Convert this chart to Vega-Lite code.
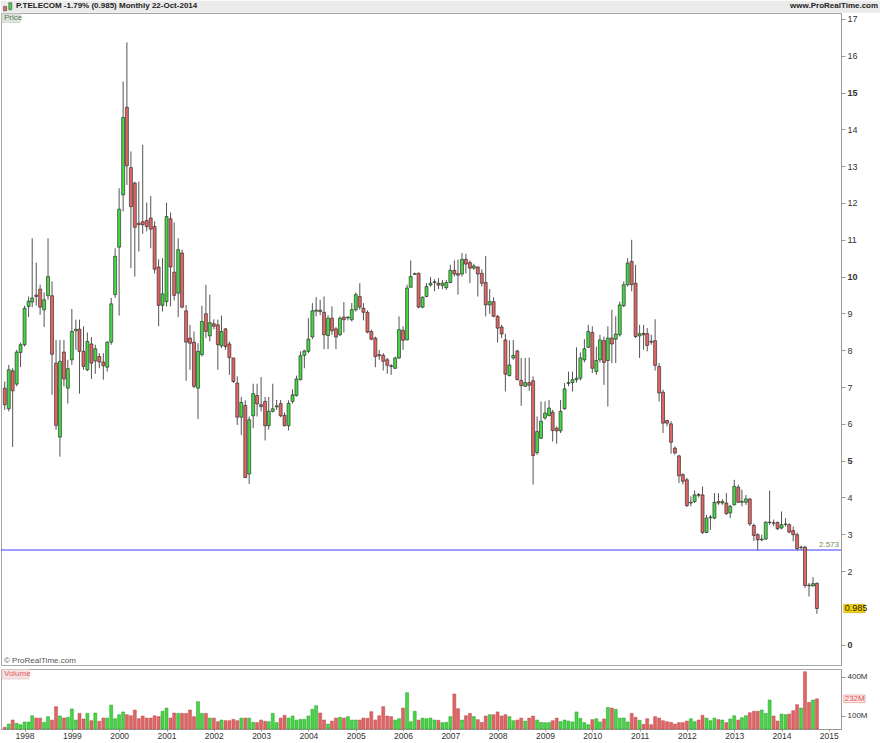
{
"$schema": "https://vega.github.io/schema/vega-lite/v6.json",
"background": "white",
"padding": 0,
"spacing": 2,
"config": {"view": {"stroke": "#a8a8a8"}, "font": "Liberation Sans"},
"datasets": {"px": [
{"d":"1997-08-01","o":6.97,"h":7.15,"l":6.38,"c":6.52,"v":13},
{"d":"1997-09-01","o":6.41,"h":7.60,"l":6.34,"c":7.47,"v":38},
{"d":"1997-10-01","o":7.44,"h":7.51,"l":5.37,"c":6.90,"v":69},
{"d":"1997-11-01","o":7.08,"h":8.01,"l":7.02,"c":7.95,"v":44},
{"d":"1997-12-01","o":7.94,"h":8.21,"l":7.54,"c":8.15,"v":33},
{"d":"1998-01-01","o":8.15,"h":9.21,"l":8.10,"c":9.14,"v":54},
{"d":"1998-02-01","o":9.19,"h":9.46,"l":8.90,"c":9.33,"v":54},
{"d":"1998-03-01","o":9.31,"h":11.04,"l":9.17,"c":9.42,"v":102},
{"d":"1998-04-01","o":9.50,"h":10.38,"l":9.21,"c":9.46,"v":84},
{"d":"1998-05-01","o":9.66,"h":9.78,"l":8.96,"c":9.17,"v":84},
{"d":"1998-06-01","o":9.10,"h":9.57,"l":8.63,"c":9.37,"v":51},
{"d":"1998-07-01","o":9.48,"h":11.04,"l":9.37,"c":10.00,"v":95},
{"d":"1998-08-01","o":9.48,"h":9.87,"l":6.79,"c":7.89,"v":69},
{"d":"1998-09-01","o":7.65,"h":8.28,"l":5.84,"c":5.96,"v":172},
{"d":"1998-10-01","o":5.64,"h":8.28,"l":5.11,"c":7.70,"v":100},
{"d":"1998-11-01","o":7.95,"h":8.28,"l":7.02,"c":7.22,"v":84},
{"d":"1998-12-01","o":6.97,"h":7.74,"l":6.55,"c":7.50,"v":90},
{"d":"1999-01-01","o":7.74,"h":9.12,"l":7.60,"c":8.51,"v":154},
{"d":"1999-02-01","o":8.53,"h":8.83,"l":8.01,"c":8.57,"v":69},
{"d":"1999-03-01","o":8.57,"h":8.83,"l":6.82,"c":7.97,"v":120},
{"d":"1999-04-01","o":7.97,"h":8.65,"l":7.47,"c":7.56,"v":77},
{"d":"1999-05-01","o":7.47,"h":8.48,"l":7.43,"c":8.24,"v":120},
{"d":"1999-06-01","o":8.17,"h":8.36,"l":7.22,"c":7.65,"v":64},
{"d":"1999-07-01","o":7.71,"h":8.15,"l":7.36,"c":8.04,"v":123},
{"d":"1999-08-01","o":7.83,"h":7.92,"l":7.51,"c":7.68,"v":59},
{"d":"1999-09-01","o":7.68,"h":7.92,"l":7.20,"c":7.58,"v":84},
{"d":"1999-10-01","o":7.54,"h":8.24,"l":7.42,"c":8.22,"v":84},
{"d":"1999-11-01","o":8.22,"h":9.42,"l":8.15,"c":9.26,"v":184},
{"d":"1999-12-01","o":9.51,"h":10.77,"l":9.42,"c":10.55,"v":79},
{"d":"2000-01-01","o":10.80,"h":12.40,"l":8.94,"c":11.83,"v":110},
{"d":"2000-02-01","o":12.22,"h":15.30,"l":11.77,"c":14.32,"v":131},
{"d":"2000-03-01","o":14.60,"h":16.36,"l":12.49,"c":13.01,"v":110},
{"d":"2000-04-01","o":12.96,"h":13.40,"l":10.23,"c":11.90,"v":102},
{"d":"2000-05-01","o":12.54,"h":12.58,"l":10.00,"c":11.34,"v":146},
{"d":"2000-06-01","o":11.45,"h":12.58,"l":10.68,"c":11.41,"v":79},
{"d":"2000-07-01","o":11.49,"h":13.58,"l":11.16,"c":11.41,"v":100},
{"d":"2000-08-01","o":11.52,"h":12.01,"l":11.23,"c":11.36,"v":84},
{"d":"2000-09-01","o":11.59,"h":12.19,"l":10.77,"c":11.29,"v":84},
{"d":"2000-10-01","o":11.36,"h":11.50,"l":10.09,"c":10.20,"v":102},
{"d":"2000-11-01","o":10.26,"h":10.47,"l":8.65,"c":9.22,"v":95},
{"d":"2000-12-01","o":9.22,"h":10.50,"l":9.05,"c":9.53,"v":136},
{"d":"2001-01-01","o":9.32,"h":12.01,"l":9.19,"c":11.63,"v":161},
{"d":"2001-02-01","o":11.57,"h":11.74,"l":9.19,"c":10.26,"v":84},
{"d":"2001-03-01","o":10.12,"h":11.47,"l":9.35,"c":9.49,"v":123},
{"d":"2001-04-01","o":9.55,"h":11.04,"l":8.90,"c":10.73,"v":120},
{"d":"2001-05-01","o":10.64,"h":10.73,"l":9.14,"c":9.17,"v":120},
{"d":"2001-06-01","o":9.07,"h":9.23,"l":7.17,"c":8.22,"v":120},
{"d":"2001-07-01","o":8.33,"h":8.69,"l":7.47,"c":8.19,"v":146},
{"d":"2001-08-01","o":8.22,"h":8.51,"l":6.97,"c":7.02,"v":95},
{"d":"2001-09-01","o":6.97,"h":8.19,"l":6.13,"c":7.97,"v":210},
{"d":"2001-10-01","o":7.88,"h":9.21,"l":7.83,"c":8.78,"v":120},
{"d":"2001-11-01","o":8.99,"h":9.78,"l":8.33,"c":8.51,"v":120},
{"d":"2001-12-01","o":8.39,"h":9.51,"l":8.24,"c":8.75,"v":84},
{"d":"2002-01-01","o":8.72,"h":8.84,"l":8.57,"c":8.65,"v":84},
{"d":"2002-02-01","o":8.69,"h":8.83,"l":7.47,"c":8.15,"v":56},
{"d":"2002-03-01","o":8.12,"h":8.94,"l":8.06,"c":8.51,"v":69},
{"d":"2002-04-01","o":8.58,"h":8.60,"l":8.01,"c":8.10,"v":64},
{"d":"2002-05-01","o":8.17,"h":8.24,"l":7.33,"c":7.80,"v":64},
{"d":"2002-06-01","o":7.79,"h":7.79,"l":7.11,"c":7.15,"v":74},
{"d":"2002-07-01","o":7.11,"h":7.29,"l":5.97,"c":6.18,"v":64},
{"d":"2002-08-01","o":6.18,"h":6.73,"l":5.70,"c":6.58,"v":84},
{"d":"2002-09-01","o":6.50,"h":6.64,"l":4.53,"c":4.54,"v":84},
{"d":"2002-10-01","o":4.64,"h":6.20,"l":4.37,"c":6.11,"v":84},
{"d":"2002-11-01","o":6.22,"h":7.09,"l":5.88,"c":6.82,"v":51},
{"d":"2002-12-01","o":6.77,"h":7.09,"l":6.20,"c":6.54,"v":49},
{"d":"2003-01-01","o":6.52,"h":7.27,"l":6.34,"c":6.47,"v":69},
{"d":"2003-02-01","o":6.61,"h":6.73,"l":5.55,"c":5.95,"v":59},
{"d":"2003-03-01","o":5.95,"h":6.73,"l":5.84,"c":6.34,"v":56},
{"d":"2003-04-01","o":6.34,"h":7.09,"l":6.31,"c":6.41,"v":120},
{"d":"2003-05-01","o":6.46,"h":6.65,"l":6.38,"c":6.49,"v":49},
{"d":"2003-06-01","o":6.55,"h":6.65,"l":6.18,"c":6.22,"v":84},
{"d":"2003-07-01","o":6.23,"h":6.31,"l":5.93,"c":5.95,"v":105},
{"d":"2003-08-01","o":5.95,"h":6.64,"l":5.82,"c":6.56,"v":84},
{"d":"2003-09-01","o":6.61,"h":6.94,"l":6.55,"c":6.79,"v":100},
{"d":"2003-10-01","o":6.77,"h":7.31,"l":6.74,"c":7.22,"v":69},
{"d":"2003-11-01","o":7.20,"h":7.97,"l":7.18,"c":7.85,"v":74},
{"d":"2003-12-01","o":7.86,"h":8.01,"l":7.51,"c":7.98,"v":74},
{"d":"2004-01-01","o":7.97,"h":8.87,"l":7.92,"c":8.30,"v":100},
{"d":"2004-02-01","o":8.36,"h":9.28,"l":8.30,"c":9.07,"v":151},
{"d":"2004-03-01","o":9.06,"h":9.44,"l":8.92,"c":9.09,"v":179},
{"d":"2004-04-01","o":9.09,"h":9.37,"l":8.95,"c":9.05,"v":123},
{"d":"2004-05-01","o":9.03,"h":9.46,"l":8.03,"c":8.42,"v":69},
{"d":"2004-06-01","o":8.40,"h":8.95,"l":8.03,"c":8.87,"v":38},
{"d":"2004-07-01","o":8.87,"h":9.19,"l":8.42,"c":8.53,"v":61},
{"d":"2004-08-01","o":8.58,"h":8.63,"l":8.03,"c":8.36,"v":84},
{"d":"2004-09-01","o":8.42,"h":8.92,"l":8.39,"c":8.87,"v":90},
{"d":"2004-10-01","o":8.90,"h":9.31,"l":8.48,"c":8.83,"v":84},
{"d":"2004-11-01","o":8.88,"h":8.92,"l":8.81,"c":8.90,"v":95},
{"d":"2004-12-01","o":8.83,"h":9.28,"l":8.78,"c":9.10,"v":69},
{"d":"2005-01-01","o":9.10,"h":9.57,"l":9.05,"c":9.51,"v":69},
{"d":"2005-02-01","o":9.46,"h":9.82,"l":9.10,"c":9.17,"v":69},
{"d":"2005-03-01","o":9.14,"h":9.28,"l":8.81,"c":9.03,"v":84},
{"d":"2005-04-01","o":9.03,"h":9.08,"l":8.46,"c":8.49,"v":82},
{"d":"2005-05-01","o":8.51,"h":8.56,"l":8.27,"c":8.30,"v":133},
{"d":"2005-06-01","o":8.33,"h":8.37,"l":7.54,"c":7.83,"v":69},
{"d":"2005-07-01","o":7.88,"h":8.01,"l":7.74,"c":7.85,"v":102},
{"d":"2005-08-01","o":7.86,"h":7.92,"l":7.45,"c":7.70,"v":172},
{"d":"2005-09-01","o":7.74,"h":7.79,"l":7.36,"c":7.59,"v":100},
{"d":"2005-10-01","o":7.58,"h":7.62,"l":7.33,"c":7.56,"v":95},
{"d":"2005-11-01","o":7.51,"h":7.83,"l":7.49,"c":7.79,"v":69},
{"d":"2005-12-01","o":7.79,"h":8.92,"l":7.76,"c":8.56,"v":79},
{"d":"2006-01-01","o":8.54,"h":8.65,"l":8.01,"c":8.27,"v":161},
{"d":"2006-02-01","o":8.28,"h":9.78,"l":8.27,"c":9.69,"v":279},
{"d":"2006-03-01","o":9.71,"h":10.44,"l":9.71,"c":10.00,"v":56},
{"d":"2006-04-01","o":10.06,"h":10.11,"l":10.05,"c":10.08,"v":136},
{"d":"2006-05-01","o":10.09,"h":10.11,"l":9.14,"c":9.17,"v":69},
{"d":"2006-06-01","o":9.17,"h":9.46,"l":9.14,"c":9.44,"v":84},
{"d":"2006-07-01","o":9.46,"h":9.82,"l":9.44,"c":9.73,"v":79},
{"d":"2006-08-01","o":9.77,"h":9.99,"l":9.73,"c":9.82,"v":84},
{"d":"2006-09-01","o":9.84,"h":9.93,"l":9.60,"c":9.86,"v":69},
{"d":"2006-10-01","o":9.82,"h":9.96,"l":9.66,"c":9.77,"v":67},
{"d":"2006-11-01","o":9.76,"h":9.91,"l":9.66,"c":9.82,"v":49},
{"d":"2006-12-01","o":9.70,"h":9.91,"l":9.64,"c":9.84,"v":51},
{"d":"2007-01-01","o":9.84,"h":10.32,"l":9.82,"c":10.17,"v":95},
{"d":"2007-02-01","o":10.17,"h":10.44,"l":10.00,"c":10.07,"v":269},
{"d":"2007-03-01","o":10.08,"h":10.46,"l":9.51,"c":10.04,"v":156},
{"d":"2007-04-01","o":10.07,"h":10.64,"l":10.00,"c":10.47,"v":69},
{"d":"2007-05-01","o":10.47,"h":10.62,"l":10.09,"c":10.34,"v":102},
{"d":"2007-06-01","o":10.38,"h":10.44,"l":9.82,"c":10.23,"v":120},
{"d":"2007-07-01","o":10.23,"h":10.35,"l":10.18,"c":10.29,"v":95},
{"d":"2007-08-01","o":10.26,"h":10.28,"l":9.46,"c":10.07,"v":72},
{"d":"2007-09-01","o":10.09,"h":10.20,"l":9.73,"c":9.82,"v":51},
{"d":"2007-10-01","o":9.84,"h":10.56,"l":8.92,"c":9.23,"v":100},
{"d":"2007-11-01","o":9.23,"h":9.66,"l":8.99,"c":9.32,"v":110},
{"d":"2007-12-01","o":9.32,"h":9.44,"l":8.90,"c":8.92,"v":110},
{"d":"2008-01-01","o":8.92,"h":8.96,"l":8.21,"c":8.60,"v":131},
{"d":"2008-02-01","o":8.63,"h":8.69,"l":8.33,"c":8.44,"v":100},
{"d":"2008-03-01","o":8.28,"h":8.45,"l":6.88,"c":7.35,"v":110},
{"d":"2008-04-01","o":7.31,"h":8.27,"l":7.29,"c":7.60,"v":95},
{"d":"2008-05-01","o":7.79,"h":8.28,"l":7.74,"c":7.86,"v":64},
{"d":"2008-06-01","o":7.98,"h":8.01,"l":7.18,"c":7.20,"v":69},
{"d":"2008-07-01","o":7.18,"h":7.79,"l":6.49,"c":7.04,"v":84},
{"d":"2008-08-01","o":7.02,"h":7.79,"l":7.00,"c":7.12,"v":61},
{"d":"2008-09-01","o":7.12,"h":7.80,"l":6.90,"c":7.05,"v":84},
{"d":"2008-10-01","o":7.17,"h":7.29,"l":4.35,"c":5.14,"v":100},
{"d":"2008-11-01","o":5.22,"h":6.20,"l":5.16,"c":5.79,"v":69},
{"d":"2008-12-01","o":5.61,"h":6.61,"l":5.59,"c":6.07,"v":51},
{"d":"2009-01-01","o":6.16,"h":6.61,"l":6.11,"c":6.29,"v":49},
{"d":"2009-02-01","o":6.23,"h":6.65,"l":6.20,"c":6.43,"v":49},
{"d":"2009-03-01","o":6.32,"h":6.38,"l":5.52,"c":5.82,"v":64},
{"d":"2009-04-01","o":5.88,"h":5.93,"l":5.46,"c":5.81,"v":84},
{"d":"2009-05-01","o":5.81,"h":6.65,"l":5.75,"c":6.34,"v":56},
{"d":"2009-06-01","o":6.41,"h":7.11,"l":6.38,"c":6.95,"v":69},
{"d":"2009-07-01","o":7.10,"h":7.42,"l":7.02,"c":7.12,"v":61},
{"d":"2009-08-01","o":7.12,"h":7.42,"l":6.88,"c":7.20,"v":54},
{"d":"2009-09-01","o":7.20,"h":8.08,"l":7.12,"c":7.24,"v":131},
{"d":"2009-10-01","o":7.24,"h":7.94,"l":7.18,"c":7.79,"v":82},
{"d":"2009-11-01","o":7.74,"h":8.30,"l":7.67,"c":8.04,"v":49},
{"d":"2009-12-01","o":8.08,"h":8.69,"l":8.06,"c":8.51,"v":33},
{"d":"2010-01-01","o":8.48,"h":8.65,"l":7.38,"c":7.51,"v":72},
{"d":"2010-02-01","o":7.42,"h":8.10,"l":7.33,"c":7.72,"v":79},
{"d":"2010-03-01","o":7.74,"h":8.42,"l":7.67,"c":8.28,"v":54},
{"d":"2010-04-01","o":8.26,"h":8.37,"l":7.06,"c":7.67,"v":77},
{"d":"2010-05-01","o":7.72,"h":8.65,"l":6.47,"c":8.33,"v":166},
{"d":"2010-06-01","o":8.33,"h":9.10,"l":7.65,"c":8.17,"v":161},
{"d":"2010-07-01","o":8.30,"h":8.92,"l":7.65,"c":8.44,"v":151},
{"d":"2010-08-01","o":8.42,"h":9.32,"l":8.37,"c":9.23,"v":84},
{"d":"2010-09-01","o":9.21,"h":9.87,"l":9.17,"c":9.78,"v":84},
{"d":"2010-10-01","o":9.78,"h":10.50,"l":9.73,"c":10.37,"v":54},
{"d":"2010-11-01","o":10.41,"h":11.00,"l":9.60,"c":9.78,"v":120},
{"d":"2010-12-01","o":9.82,"h":10.32,"l":8.33,"c":8.37,"v":90},
{"d":"2011-01-01","o":8.39,"h":8.69,"l":7.79,"c":8.45,"v":67},
{"d":"2011-02-01","o":8.46,"h":8.69,"l":8.01,"c":8.42,"v":36},
{"d":"2011-03-01","o":8.45,"h":8.60,"l":7.97,"c":8.13,"v":79},
{"d":"2011-04-01","o":8.24,"h":8.42,"l":8.15,"c":8.22,"v":33},
{"d":"2011-05-01","o":8.26,"h":8.84,"l":7.45,"c":7.59,"v":95},
{"d":"2011-06-01","o":7.56,"h":7.65,"l":6.61,"c":6.84,"v":84},
{"d":"2011-07-01","o":6.86,"h":6.93,"l":5.75,"c":6.02,"v":64},
{"d":"2011-08-01","o":6.09,"h":6.11,"l":5.93,"c":6.02,"v":56},
{"d":"2011-09-01","o":6.00,"h":6.07,"l":5.19,"c":5.50,"v":51},
{"d":"2011-10-01","o":5.34,"h":5.39,"l":5.16,"c":5.21,"v":38},
{"d":"2011-11-01","o":5.13,"h":5.16,"l":4.39,"c":4.59,"v":49},
{"d":"2011-12-01","o":4.62,"h":4.66,"l":4.35,"c":4.44,"v":49},
{"d":"2012-01-01","o":4.48,"h":4.53,"l":3.74,"c":3.78,"v":61},
{"d":"2012-02-01","o":3.85,"h":4.03,"l":3.76,"c":3.87,"v":79},
{"d":"2012-03-01","o":3.89,"h":4.19,"l":3.85,"c":4.07,"v":56},
{"d":"2012-04-01","o":4.08,"h":4.12,"l":4.00,"c":4.06,"v":69},
{"d":"2012-05-01","o":4.07,"h":4.30,"l":3.01,"c":3.05,"v":105},
{"d":"2012-06-01","o":3.05,"h":3.53,"l":3.03,"c":3.44,"v":84},
{"d":"2012-07-01","o":3.45,"h":3.53,"l":3.12,"c":3.47,"v":64},
{"d":"2012-08-01","o":3.44,"h":4.12,"l":3.41,"c":3.87,"v":84},
{"d":"2012-09-01","o":3.89,"h":4.12,"l":3.80,"c":3.85,"v":72},
{"d":"2012-10-01","o":3.85,"h":3.95,"l":3.80,"c":3.89,"v":69},
{"d":"2012-11-01","o":3.85,"h":4.12,"l":3.53,"c":3.56,"v":49},
{"d":"2012-12-01","o":3.58,"h":3.80,"l":3.44,"c":3.76,"v":77},
{"d":"2013-01-01","o":3.80,"h":4.48,"l":3.78,"c":4.30,"v":102},
{"d":"2013-02-01","o":4.28,"h":4.35,"l":3.85,"c":3.87,"v":69},
{"d":"2013-03-01","o":3.87,"h":4.21,"l":3.76,"c":3.89,"v":87},
{"d":"2013-04-01","o":3.87,"h":4.07,"l":3.80,"c":3.96,"v":102},
{"d":"2013-05-01","o":3.96,"h":3.98,"l":3.23,"c":3.28,"v":125},
{"d":"2013-06-01","o":3.24,"h":3.29,"l":2.82,"c":2.97,"v":136},
{"d":"2013-07-01","o":2.99,"h":3.03,"l":2.56,"c":2.85,"v":136},
{"d":"2013-08-01","o":2.85,"h":2.99,"l":2.81,"c":2.87,"v":146},
{"d":"2013-09-01","o":2.87,"h":3.35,"l":2.85,"c":3.33,"v":120},
{"d":"2013-10-01","o":3.32,"h":4.19,"l":3.25,"c":3.33,"v":223},
{"d":"2013-11-01","o":3.31,"h":3.40,"l":3.22,"c":3.30,"v":100},
{"d":"2013-12-01","o":3.32,"h":3.35,"l":3.12,"c":3.15,"v":61},
{"d":"2014-01-01","o":3.17,"h":3.62,"l":3.14,"c":3.26,"v":115},
{"d":"2014-02-01","o":3.27,"h":3.44,"l":3.21,"c":3.28,"v":110},
{"d":"2014-03-01","o":3.26,"h":3.30,"l":3.03,"c":3.06,"v":115},
{"d":"2014-04-01","o":3.10,"h":3.21,"l":2.81,"c":2.99,"v":141},
{"d":"2014-05-01","o":2.99,"h":3.05,"l":2.56,"c":2.61,"v":187},
{"d":"2014-06-01","o":2.64,"h":2.69,"l":2.58,"c":2.65,"v":161},
{"d":"2014-07-01","o":2.65,"h":2.69,"l":1.54,"c":1.61,"v":440},
{"d":"2014-08-01","o":1.62,"h":1.68,"l":1.31,"c":1.60,"v":205},
{"d":"2014-09-01","o":1.60,"h":1.84,"l":1.58,"c":1.66,"v":223},
{"d":"2014-10-01","o":1.67,"h":1.69,"l":0.84,"c":0.985,"v":232}
]},
"vconcat": [
{
"width": 840,
"height": 652,
"layer": [
{"data": {"values": [{}]},
 "mark": {"type": "rect", "fill": "#ebebeb"},
 "encoding": {
  "x": {"datum": {"year": 1997, "month": 7, "date": 3}, "type": "temporal", "scale": {"domain": [{"year": 1997, "month": 7, "date": 3}, {"year": 2015, "month": 4, "date": 5}], "padding": 0}, "axis": null},
  "x2": {"datum": {"year": 2016, "month": 2, "date": 1}},
  "y": {"datum": 17.17, "type": "quantitative", "scale": {"domain": [-0.55, 17.16], "nice": false, "zero": false}, "axis": {"orient": "right", "values": [0,2,3,4,5,6,7,8,9,10,11,12,13,14,15,16,17], "title": null, "grid": false, "tickSize": 4, "tickColor": "#999", "domainColor": "#999", "labelFontSize": 9, "labelColor": "#333", "labelPadding": 2, "labelFontWeight": {"condition": {"test": "datum.value % 5 === 0", "value": "bold"}, "value": "normal"}}},
  "y2": {"datum": 17.49}
 }},
{"data": {"values": [{}]},
 "mark": {"type": "rect", "fill": "#e06666", "stroke": "#333", "strokeWidth": 0.5},
 "encoding": {"x": {"datum": {"year": 1997, "month": 7, "date": 23}, "type": "temporal"}, "x2": {"datum": {"year": 1997, "month": 8, "date": 15}}, "y": {"datum": 17.22, "type": "quantitative"}, "y2": {"datum": 17.34}}},
{"data": {"values": [{}]},
 "mark": {"type": "rect", "fill": "#46d646", "stroke": "#333", "strokeWidth": 0.5},
 "encoding": {"x": {"datum": {"year": 1997, "month": 9, "date": 1}, "type": "temporal"}, "x2": {"datum": {"year": 1997, "month": 9, "date": 24}}, "y": {"datum": 17.25, "type": "quantitative"}, "y2": {"datum": 17.44}}},
{"data": {"values": [{}]},
 "mark": {"type": "text", "text": "P.TELECOM   -1.79% (0.985)   Monthly   22-Oct-2014", "align": "left", "baseline": "middle", "fontSize": 8, "fontWeight": "bold", "color": "#222", "dx": 15},
 "encoding": {"x": {"datum": {"year": 1997, "month": 7, "date": 3}, "type": "temporal"}, "y": {"datum": 17.34, "type": "quantitative"}}},
{"data": {"values": [{}]},
 "mark": {"type": "text", "text": "www.ProRealTime.com", "align": "right", "baseline": "middle", "fontSize": 8, "fontWeight": "bold", "color": "#222", "dx": -2},
 "encoding": {"x": {"datum": {"year": 2016, "month": 2, "date": 1}, "type": "temporal"}, "y": {"datum": 17.34, "type": "quantitative"}}},
{"data": {"values": [{}]},
 "mark": {"type": "rect", "fill": "#dfe6dc", "stroke": "#c2cac0", "strokeWidth": 0.6},
 "encoding": {"x": {"datum": {"year": 1997, "month": 7, "date": 10}, "type": "temporal"}, "x2": {"datum": {"year": 1997, "month": 11, "date": 27}}, "y": {"datum": 16.9, "type": "quantitative"}, "y2": {"datum": 17.14}}},
{"data": {"values": [{}]},
 "mark": {"type": "text", "text": "Price", "align": "left", "baseline": "middle", "fontSize": 8, "color": "#557755", "dx": 3},
 "encoding": {"x": {"datum": {"year": 1997, "month": 7, "date": 3}, "type": "temporal"}, "y": {"datum": 17.02, "type": "quantitative"}}},
{"data": {"values": [{}]},
 "mark": {"type": "text", "text": "© ProRealTime.com", "align": "left", "baseline": "middle", "fontSize": 8, "color": "#555", "dx": 3},
 "encoding": {"x": {"datum": {"year": 1997, "month": 7, "date": 3}, "type": "temporal"}, "y": {"datum": -0.43, "type": "quantitative"}}},
{"data": {"values": [{}]},
 "mark": {"type": "rule", "color": "#3a3aff", "strokeWidth": 1},
 "encoding": {"y": {"datum": 2.573, "type": "quantitative"}}},
{"data": {"values": [{}]},
 "mark": {"type": "text", "text": "2.573", "align": "right", "baseline": "bottom", "fontSize": 8, "color": "#6b8e4e", "dx": -2, "dy": -1},
 "encoding": {"x": {"datum": {"year": 2015, "month": 4, "date": 5}, "type": "temporal"}, "y": {"datum": 2.573, "type": "quantitative"}}},
{"data": {"name": "px"},
 "mark": {"type": "rule", "color": "#555555", "strokeWidth": 1},
 "encoding": {"x": {"field": "d", "type": "temporal"}, "y": {"field": "l", "type": "quantitative"}, "y2": {"field": "h"}}},
{"data": {"name": "px"},
 "mark": {"type": "bar", "size": 3, "stroke": "#1e1e1e", "strokeWidth": 0.6},
 "encoding": {"x": {"field": "d", "type": "temporal"}, "y": {"field": "o", "type": "quantitative"}, "y2": {"field": "c"},
  "fill": {"condition": {"test": "datum.c >= datum.o", "value": "#46d646"}, "value": "#e06666"}}},
{"data": {"values": [{}]},
 "mark": {"type": "rect", "fill": "#f5d200", "stroke": "#c9a800", "strokeWidth": 0.6},
 "encoding": {"x": {"datum": {"year": 2015, "month": 4, "date": 26}, "type": "temporal"}, "x2": {"datum": {"year": 2015, "month": 10, "date": 8}}, "y": {"datum": 0.872, "type": "quantitative"}, "y2": {"datum": 1.098}}},
{"data": {"values": [{}]},
 "mark": {"type": "text", "text": "0.985", "align": "left", "baseline": "middle", "fontSize": 9, "color": "#222", "dx": 1},
 "encoding": {"x": {"datum": {"year": 2015, "month": 4, "date": 26}, "type": "temporal"}, "y": {"datum": 0.985, "type": "quantitative"}}}
]
},
{
"width": 840,
"height": 60,
"layer": [
{"data": {"name": "px"},
 "mark": {"type": "bar", "size": 3, "strokeWidth": 0.5},
 "encoding": {
  "x": {"field": "d", "type": "temporal", "scale": {"domain": [{"year": 1997, "month": 7, "date": 3}, {"year": 2015, "month": 4, "date": 5}], "padding": 0}, "axis": {"orient": "bottom", "format": "%Y", "tickCount": "year", "title": null, "grid": false, "tickSize": 2, "tickColor": "#999", "domainColor": "#999", "labelFontSize": 8.5, "labelColor": "#333", "labelPadding": 0, "labelFlush": false, "labelOverlap": false}},
  "y": {"field": "v", "type": "quantitative", "scale": {"domain": [0, 461], "nice": false, "zero": true}, "axis": {"orient": "right", "values": [100, 300, 400], "labelExpr": "datum.value + 'M'", "title": null, "grid": false, "tickSize": 4, "tickColor": "#999", "domainColor": "#999", "labelFontSize": 8, "labelColor": "#333", "labelPadding": 2}},
  "fill": {"condition": {"test": "datum.c >= datum.o", "value": "#46d646"}, "value": "#e06666"},
  "stroke": {"condition": {"test": "datum.c >= datum.o", "value": "#2a9a2a"}, "value": "#b84646"}
 }},
{"data": {"values": [{}]},
 "mark": {"type": "rect", "fill": "#f6e2e2", "stroke": "#d8c0c0", "strokeWidth": 0.6},
 "encoding": {"x": {"datum": {"year": 1997, "month": 7, "date": 10}, "type": "temporal"}, "x2": {"datum": {"year": 1998, "month": 2, "date": 4}}, "y": {"datum": 384, "type": "quantitative"}, "y2": {"datum": 458}}},
{"data": {"values": [{}]},
 "mark": {"type": "text", "text": "Volume", "align": "left", "baseline": "middle", "fontSize": 8, "color": "#e06060", "dx": 3},
 "encoding": {"x": {"datum": {"year": 1997, "month": 7, "date": 3}, "type": "temporal"}, "y": {"datum": 420, "type": "quantitative"}}},
{"data": {"values": [{}]},
 "mark": {"type": "rect", "fill": "#fde9e9", "stroke": "#e08a8a", "strokeWidth": 0.6},
 "encoding": {"x": {"datum": {"year": 2015, "month": 4, "date": 26}, "type": "temporal"}, "x2": {"datum": {"year": 2015, "month": 10, "date": 8}}, "y": {"datum": 203, "type": "quantitative"}, "y2": {"datum": 261}}},
{"data": {"values": [{}]},
 "mark": {"type": "text", "text": "232M", "align": "left", "baseline": "middle", "fontSize": 8, "color": "#e05050", "dx": 1},
 "encoding": {"x": {"datum": {"year": 2015, "month": 4, "date": 26}, "type": "temporal"}, "y": {"datum": 232, "type": "quantitative"}}}
]
}
]
}
